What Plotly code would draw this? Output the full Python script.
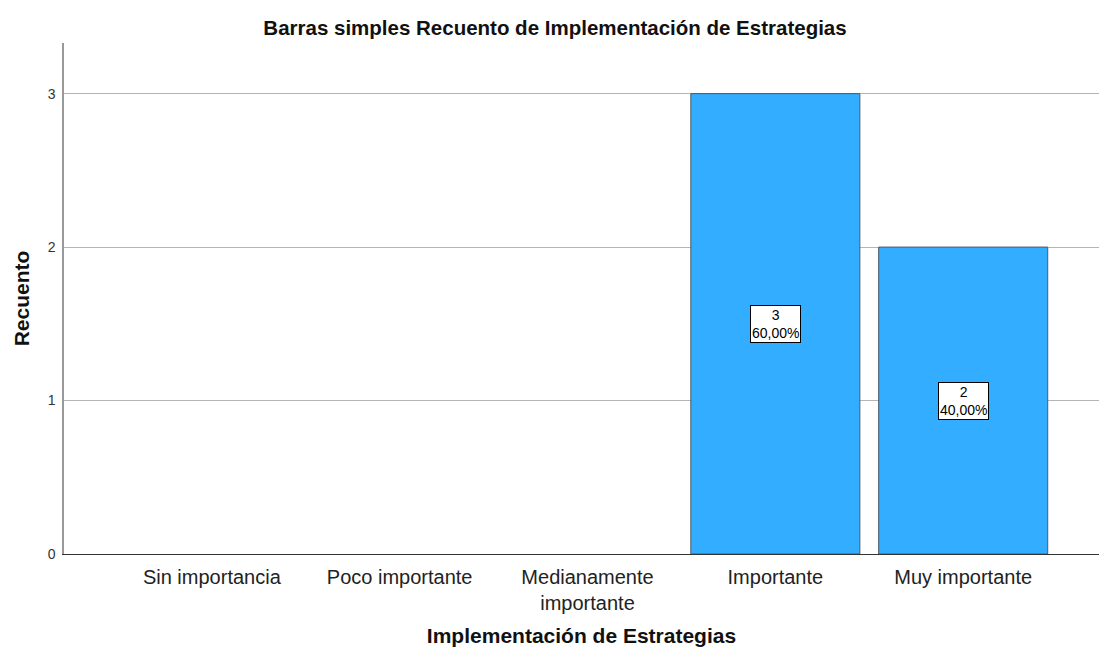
import plotly.graph_objects as go

categories = ["Sin importancia", "Poco importante", "Medianamente<br>importante", "Importante", "Muy importante"]
counts = [0, 0, 0, 3, 2]
percents = ["", "", "", "60,00%", "40,00%"]

fig = go.Figure()
fig.add_trace(go.Bar(
    x=list(range(len(categories))), y=counts, width=0.9,
    marker=dict(color="#33adff",
                line=dict(color="#4a5a66", width=[1 if c > 0 else 0 for c in counts])),
    hoverinfo="skip",
))

for i, (c, p) in enumerate(zip(counts, percents)):
    if c > 0:
        fig.add_annotation(x=i, y=c / 2, text=f"{c}<br>{p}", showarrow=False,
                           font=dict(family="Arial, Liberation Sans", size=14, color="#000"),
                           bgcolor="white", bordercolor="#000", borderwidth=1, borderpad=1)

fig.update_layout(
    width=1099, height=652,
    margin=dict(l=64, r=0, t=43, b=98),
    plot_bgcolor="white", paper_bgcolor="white",
    showlegend=False,
    font=dict(family="Arial, Liberation Sans"),
    title=dict(text="<b>Barras simples Recuento de Implementación de Estrategias</b>",
               x=0.505, xanchor="center", y=0.958, yanchor="middle",
               font=dict(size=20.5, color="#111")),
    xaxis=dict(range=[-0.787, 4.723], tickmode="array", tickvals=list(range(len(categories))),
               ticktext=categories, showgrid=False, zeroline=False,
               showline=True, linecolor="#333", linewidth=1,
               tickfont=dict(size=20, color="#222"), ticks="", ticklabelstandoff=5,
               title=dict(text="<b>Implementación de Estrategias</b>", font=dict(size=21, color="#111"),
                          standoff=15)),
    yaxis=dict(range=[0, 3.33], tickvals=[0, 1, 2, 3], showgrid=True, gridcolor="#b5b5b5",
               gridwidth=1, zeroline=False, showline=True, linecolor="#999", linewidth=1.5,
               tickfont=dict(size=14, color="#333"), ticks="", ticklabelstandoff=4,
               title=dict(text="<b>Recuento</b>", font=dict(size=21, color="#111"), standoff=12)),
)

fig.write_html("out.html", config={"displayModeBar": False},
               post_script="document.body.style.margin='0';document.body.style.overflow='hidden';")
